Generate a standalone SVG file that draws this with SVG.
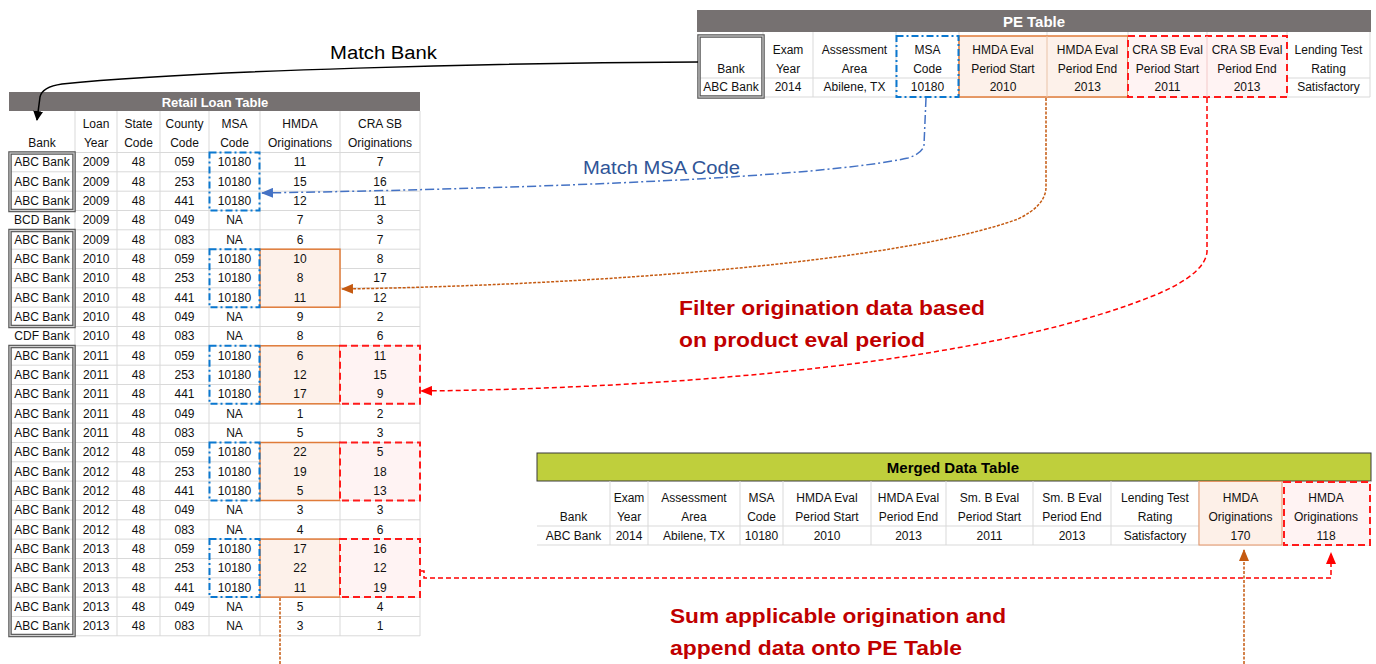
<svg xmlns="http://www.w3.org/2000/svg" width="1376" height="664" viewBox="0 0 1376 664">
<style>
text{font-family:"Liberation Sans",Arial,sans-serif;}
.c{font-size:12px;fill:#111;text-anchor:middle;}
.bar{fill:#767171;}
.bt{font-weight:bold;fill:#fff;text-anchor:middle;}
.g{stroke:#d9d9d9;stroke-width:1;fill:none;}
.bank1{fill:none;stroke:#555;stroke-width:3.5;}
.bank2{fill:none;stroke:#cfcfcf;stroke-width:1.2;}
.msa{fill:none;stroke:#0b78d0;stroke-width:2;stroke-dasharray:7 3 2 3;}
.hm{fill:#fdf1ea;stroke:#e07b39;stroke-width:1.5;}
.cra{fill:#fff3f3;stroke:#ff1a1a;stroke-width:2;stroke-dasharray:7 4;}
.lbl{font-size:21px;font-weight:bold;fill:#c00000;}
</style>
<defs>
<marker id="aBlack" markerWidth="10" markerHeight="10" refX="9" refY="5" orient="auto" markerUnits="userSpaceOnUse"><path d="M0,0 L10,5 L0,10 z" fill="#000"/></marker>
<marker id="aBlue" markerWidth="12" markerHeight="10" refX="11" refY="5" orient="auto" markerUnits="userSpaceOnUse"><path d="M0,0 L12,5 L0,10 z" fill="#4472c4"/></marker>
<marker id="aOrange" markerWidth="12" markerHeight="10" refX="11" refY="5" orient="auto" markerUnits="userSpaceOnUse"><path d="M0,0 L12,5 L0,10 z" fill="#c55a11"/></marker>
<marker id="aRed" markerWidth="12" markerHeight="10" refX="11" refY="5" orient="auto" markerUnits="userSpaceOnUse"><path d="M0,0 L12,5 L0,10 z" fill="#ff0000"/></marker>
</defs>
<rect width="1376" height="664" fill="#fff"/>

<g id="retail-table">
<rect class="bar" x="9" y="92" width="411" height="19"/>
<text class="bt" x="215" y="106.5" font-size="13">Retail Loan Table</text>
<path class="g" d="M75 111V636M117 111V636M160 111V636M209 111V636M260 111V636M340 111V636M420 111V636M9 152.5H420M9 171.8H420M9 191.2H420M9 210.5H420M9 229.8H420M9 249.2H420M9 268.5H420M9 287.8H420M9 307.1H420M9 326.5H420M9 345.8H420M9 365.2H420M9 384.5H420M9 403.8H420M9 423.1H420M9 442.5H420M9 461.8H420M9 481.1H420M9 500.5H420M9 519.8H420M9 539.1H420M9 558.5H420M9 577.8H420M9 597.1H420M9 616.5H420M9 635.8H420"/>
<text class="c" y="128"><tspan x="96">Loan</tspan><tspan x="138.5">State</tspan><tspan x="184.5">County</tspan><tspan x="234.5">MSA</tspan><tspan x="300">HMDA</tspan><tspan x="380">CRA SB</tspan></text>
<text class="c" y="146.5"><tspan x="42">Bank</tspan><tspan x="96">Year</tspan><tspan x="138.5">Code</tspan><tspan x="184.5">Code</tspan><tspan x="234.5">Code</tspan><tspan x="300">Originations</tspan><tspan x="380">Originations</tspan></text>
<rect class="hm" x="260" y="249.2" width="80" height="58"/>
<rect class="hm" x="260" y="345.8" width="80" height="58"/>
<rect class="hm" x="260" y="442.5" width="80" height="58"/>
<rect class="hm" x="260" y="539.1" width="80" height="58"/>
<rect class="cra" x="340" y="345.8" width="80" height="58"/>
<rect class="cra" x="340" y="442.5" width="80" height="58"/>
<rect class="cra" x="340" y="539.1" width="80" height="58"/>
<rect class="msa" x="209.5" y="152.5" width="50" height="58"/>
<rect class="msa" x="209.5" y="249.2" width="50" height="58"/>
<rect class="msa" x="209.5" y="345.8" width="50" height="58"/>
<rect class="msa" x="209.5" y="442.5" width="50" height="58"/>
<rect class="msa" x="209.5" y="539.1" width="50" height="58"/>
<rect class="bank1" x="10" y="153" width="64" height="57.5"/>
<rect class="bank2" x="10" y="153" width="64" height="57.5"/>
<rect class="bank1" x="10" y="230.5" width="64" height="96"/>
<rect class="bank2" x="10" y="230.5" width="64" height="96"/>
<rect class="bank1" x="10" y="346.5" width="64" height="289"/>
<rect class="bank2" x="10" y="346.5" width="64" height="289"/>
<text class="c" y="166.2"><tspan x="42">ABC Bank</tspan><tspan x="96">2009</tspan><tspan x="138.5">48</tspan><tspan x="184.5">059</tspan><tspan x="234.5">10180</tspan><tspan x="300">11</tspan><tspan x="380">7</tspan></text>
<text class="c" y="185.5"><tspan x="42">ABC Bank</tspan><tspan x="96">2009</tspan><tspan x="138.5">48</tspan><tspan x="184.5">253</tspan><tspan x="234.5">10180</tspan><tspan x="300">15</tspan><tspan x="380">16</tspan></text>
<text class="c" y="204.9"><tspan x="42">ABC Bank</tspan><tspan x="96">2009</tspan><tspan x="138.5">48</tspan><tspan x="184.5">441</tspan><tspan x="234.5">10180</tspan><tspan x="300">12</tspan><tspan x="380">11</tspan></text>
<text class="c" y="224.2"><tspan x="42">BCD Bank</tspan><tspan x="96">2009</tspan><tspan x="138.5">48</tspan><tspan x="184.5">049</tspan><tspan x="234.5">NA</tspan><tspan x="300">7</tspan><tspan x="380">3</tspan></text>
<text class="c" y="243.5"><tspan x="42">ABC Bank</tspan><tspan x="96">2009</tspan><tspan x="138.5">48</tspan><tspan x="184.5">083</tspan><tspan x="234.5">NA</tspan><tspan x="300">6</tspan><tspan x="380">7</tspan></text>
<text class="c" y="262.9"><tspan x="42">ABC Bank</tspan><tspan x="96">2010</tspan><tspan x="138.5">48</tspan><tspan x="184.5">059</tspan><tspan x="234.5">10180</tspan><tspan x="300">10</tspan><tspan x="380">8</tspan></text>
<text class="c" y="282.2"><tspan x="42">ABC Bank</tspan><tspan x="96">2010</tspan><tspan x="138.5">48</tspan><tspan x="184.5">253</tspan><tspan x="234.5">10180</tspan><tspan x="300">8</tspan><tspan x="380">17</tspan></text>
<text class="c" y="301.5"><tspan x="42">ABC Bank</tspan><tspan x="96">2010</tspan><tspan x="138.5">48</tspan><tspan x="184.5">441</tspan><tspan x="234.5">10180</tspan><tspan x="300">11</tspan><tspan x="380">12</tspan></text>
<text class="c" y="320.8"><tspan x="42">ABC Bank</tspan><tspan x="96">2010</tspan><tspan x="138.5">48</tspan><tspan x="184.5">049</tspan><tspan x="234.5">NA</tspan><tspan x="300">9</tspan><tspan x="380">2</tspan></text>
<text class="c" y="340.2"><tspan x="42">CDF Bank</tspan><tspan x="96">2010</tspan><tspan x="138.5">48</tspan><tspan x="184.5">083</tspan><tspan x="234.5">NA</tspan><tspan x="300">8</tspan><tspan x="380">6</tspan></text>
<text class="c" y="359.5"><tspan x="42">ABC Bank</tspan><tspan x="96">2011</tspan><tspan x="138.5">48</tspan><tspan x="184.5">059</tspan><tspan x="234.5">10180</tspan><tspan x="300">6</tspan><tspan x="380">11</tspan></text>
<text class="c" y="378.8"><tspan x="42">ABC Bank</tspan><tspan x="96">2011</tspan><tspan x="138.5">48</tspan><tspan x="184.5">253</tspan><tspan x="234.5">10180</tspan><tspan x="300">12</tspan><tspan x="380">15</tspan></text>
<text class="c" y="398.2"><tspan x="42">ABC Bank</tspan><tspan x="96">2011</tspan><tspan x="138.5">48</tspan><tspan x="184.5">441</tspan><tspan x="234.5">10180</tspan><tspan x="300">17</tspan><tspan x="380">9</tspan></text>
<text class="c" y="417.5"><tspan x="42">ABC Bank</tspan><tspan x="96">2011</tspan><tspan x="138.5">48</tspan><tspan x="184.5">049</tspan><tspan x="234.5">NA</tspan><tspan x="300">1</tspan><tspan x="380">2</tspan></text>
<text class="c" y="436.8"><tspan x="42">ABC Bank</tspan><tspan x="96">2011</tspan><tspan x="138.5">48</tspan><tspan x="184.5">083</tspan><tspan x="234.5">NA</tspan><tspan x="300">5</tspan><tspan x="380">3</tspan></text>
<text class="c" y="456.2"><tspan x="42">ABC Bank</tspan><tspan x="96">2012</tspan><tspan x="138.5">48</tspan><tspan x="184.5">059</tspan><tspan x="234.5">10180</tspan><tspan x="300">22</tspan><tspan x="380">5</tspan></text>
<text class="c" y="475.5"><tspan x="42">ABC Bank</tspan><tspan x="96">2012</tspan><tspan x="138.5">48</tspan><tspan x="184.5">253</tspan><tspan x="234.5">10180</tspan><tspan x="300">19</tspan><tspan x="380">18</tspan></text>
<text class="c" y="494.8"><tspan x="42">ABC Bank</tspan><tspan x="96">2012</tspan><tspan x="138.5">48</tspan><tspan x="184.5">441</tspan><tspan x="234.5">10180</tspan><tspan x="300">5</tspan><tspan x="380">13</tspan></text>
<text class="c" y="514.1"><tspan x="42">ABC Bank</tspan><tspan x="96">2012</tspan><tspan x="138.5">48</tspan><tspan x="184.5">049</tspan><tspan x="234.5">NA</tspan><tspan x="300">3</tspan><tspan x="380">3</tspan></text>
<text class="c" y="533.5"><tspan x="42">ABC Bank</tspan><tspan x="96">2012</tspan><tspan x="138.5">48</tspan><tspan x="184.5">083</tspan><tspan x="234.5">NA</tspan><tspan x="300">4</tspan><tspan x="380">6</tspan></text>
<text class="c" y="552.8"><tspan x="42">ABC Bank</tspan><tspan x="96">2013</tspan><tspan x="138.5">48</tspan><tspan x="184.5">059</tspan><tspan x="234.5">10180</tspan><tspan x="300">17</tspan><tspan x="380">16</tspan></text>
<text class="c" y="572.1"><tspan x="42">ABC Bank</tspan><tspan x="96">2013</tspan><tspan x="138.5">48</tspan><tspan x="184.5">253</tspan><tspan x="234.5">10180</tspan><tspan x="300">22</tspan><tspan x="380">12</tspan></text>
<text class="c" y="591.5"><tspan x="42">ABC Bank</tspan><tspan x="96">2013</tspan><tspan x="138.5">48</tspan><tspan x="184.5">441</tspan><tspan x="234.5">10180</tspan><tspan x="300">11</tspan><tspan x="380">19</tspan></text>
<text class="c" y="610.8"><tspan x="42">ABC Bank</tspan><tspan x="96">2013</tspan><tspan x="138.5">48</tspan><tspan x="184.5">049</tspan><tspan x="234.5">NA</tspan><tspan x="300">5</tspan><tspan x="380">4</tspan></text>
<text class="c" y="630.1"><tspan x="42">ABC Bank</tspan><tspan x="96">2013</tspan><tspan x="138.5">48</tspan><tspan x="184.5">083</tspan><tspan x="234.5">NA</tspan><tspan x="300">3</tspan><tspan x="380">1</tspan></text>
</g>

<g id="pe-table">
<rect class="bar" x="697" y="10" width="674" height="22"/>
<text class="bt" x="1034" y="26.5" font-size="15">PE Table</text>
<path class="g" d="M763 32V97M813 32V97M896 32V97M959 32V97M1047 32V97M1128 32V97M1207 32V97M1287 32V97M1370 32V97M697 78H1370M697 97H1370"/>
<rect class="hm" x="959" y="36" width="169" height="61"/>
<path d="M1047 36V97" stroke="#e9c3a8" stroke-width="1"/>
<rect class="cra" x="1128" y="36" width="159" height="61"/>
<path d="M1207 36V97" stroke="#f3c9c9" stroke-width="1"/>
<rect class="msa" x="896.5" y="36" width="62" height="61"/>
<rect class="bank1" x="699" y="36" width="64" height="61"/>
<rect class="bank2" x="699" y="36" width="64" height="61"/>
<text class="c" y="54"><tspan x="788">Exam</tspan><tspan x="854.5">Assessment</tspan><tspan x="927.5">MSA</tspan><tspan x="1003">HMDA Eval</tspan><tspan x="1087.5">HMDA Eval</tspan><tspan x="1167.5">CRA SB Eval</tspan><tspan x="1247">CRA SB Eval</tspan><tspan x="1328.5">Lending Test</tspan></text>
<text class="c" y="73"><tspan x="731">Bank</tspan><tspan x="788">Year</tspan><tspan x="854.5">Area</tspan><tspan x="927.5">Code</tspan><tspan x="1003">Period Start</tspan><tspan x="1087.5">Period End</tspan><tspan x="1167.5">Period Start</tspan><tspan x="1247">Period End</tspan><tspan x="1328.5">Rating</tspan></text>
<text class="c" y="91"><tspan x="731">ABC Bank</tspan><tspan x="788">2014</tspan><tspan x="854.5">Abilene, TX</tspan><tspan x="927.5">10180</tspan><tspan x="1003">2010</tspan><tspan x="1087.5">2013</tspan><tspan x="1167.5">2011</tspan><tspan x="1247">2013</tspan><tspan x="1328.5">Satisfactory</tspan></text>
</g>

<g id="merged-table">
<rect x="537" y="453" width="834" height="28" fill="#bfcf3c" stroke="#3a3a3a" stroke-width="1"/>
<text x="953" y="472.5" font-size="15" font-weight="bold" fill="#000" text-anchor="middle">Merged Data Table</text>
<path class="g" d="M610 481V545M648 481V545M740 481V545M783 481V545M871 481V545M946 481V545M1033 481V545M1111 481V545M1199 481V545M1370 481V545M537 526H1370M537 545H1370"/>
<rect x="1199" y="481.5" width="83" height="63.5" fill="#fdf0e8" stroke="#e59466" stroke-width="1"/>
<rect class="cra" x="1284" y="482" width="86" height="63"/>
<text class="c" y="502"><tspan x="629">Exam</tspan><tspan x="694">Assessment</tspan><tspan x="761.5">MSA</tspan><tspan x="827">HMDA Eval</tspan><tspan x="908.5">HMDA Eval</tspan><tspan x="989.5">Sm. B Eval</tspan><tspan x="1072">Sm. B Eval</tspan><tspan x="1155">Lending Test</tspan><tspan x="1240.5">HMDA</tspan><tspan x="1326">HMDA</tspan></text>
<text class="c" y="521"><tspan x="573.5">Bank</tspan><tspan x="629">Year</tspan><tspan x="694">Area</tspan><tspan x="761.5">Code</tspan><tspan x="827">Period Start</tspan><tspan x="908.5">Period End</tspan><tspan x="989.5">Period Start</tspan><tspan x="1072">Period End</tspan><tspan x="1155">Rating</tspan><tspan x="1240.5">Originations</tspan><tspan x="1326">Originations</tspan></text>
<text class="c" y="539.5"><tspan x="573.5">ABC Bank</tspan><tspan x="629">2014</tspan><tspan x="694">Abilene, TX</tspan><tspan x="761.5">10180</tspan><tspan x="827">2010</tspan><tspan x="908.5">2013</tspan><tspan x="989.5">2011</tspan><tspan x="1072">2013</tspan><tspan x="1155">Satisfactory</tspan><tspan x="1240.5">170</tspan><tspan x="1326">118</tspan></text>
</g>

<g id="connectors" fill="none">
<path d="M698 62 C500 63 200 70 62 84 Q42 87 40 97 L37 120" stroke="#000" stroke-width="1.5" marker-end="url(#aBlack)"/>
<path d="M926 98 L924 145 Q923 153 908 158 C820 177 560 188 262 193" stroke="#4472c4" stroke-width="1.5" stroke-dasharray="9 3 2 3" marker-end="url(#aBlue)"/>
<path d="M1046 98 L1046 188 Q1045 206 1018 219 C900 262 600 285 342 289" stroke="#c55a11" stroke-width="1.5" stroke-dasharray="3 1.5" marker-end="url(#aOrange)"/>
<path d="M1207 98 L1207 252 Q1205 273 1160 293 C1000 360 700 388 421 391" stroke="#ff0000" stroke-width="1.5" stroke-dasharray="5 3" marker-end="url(#aRed)"/>
<path d="M421 571 H424 V578 H1331 V553" stroke="#ff0000" stroke-width="1.5" stroke-dasharray="5 3" marker-end="url(#aRed)"/>
<path d="M280 598 V664" stroke="#c55a11" stroke-width="1.5" stroke-dasharray="3 1.5"/>
<path d="M1244 664 V550" stroke="#c55a11" stroke-width="1.5" stroke-dasharray="3 1.5" marker-end="url(#aOrange)"/>
</g>

<g id="labels">
<text x="330" y="59" font-size="18" fill="#000" textLength="107" lengthAdjust="spacingAndGlyphs">Match Bank</text>
<text x="583" y="174" font-size="18" fill="#2f5597" textLength="157" lengthAdjust="spacingAndGlyphs">Match MSA Code</text>
<text class="lbl" x="679" y="315" textLength="306" lengthAdjust="spacingAndGlyphs">Filter origination data based</text>
<text class="lbl" x="679" y="347" textLength="246" lengthAdjust="spacingAndGlyphs">on product eval period</text>
<text class="lbl" x="670" y="623" textLength="336" lengthAdjust="spacingAndGlyphs">Sum applicable origination and</text>
<text class="lbl" x="670" y="655" textLength="292" lengthAdjust="spacingAndGlyphs">append data onto PE Table</text>
</g>
</svg>
